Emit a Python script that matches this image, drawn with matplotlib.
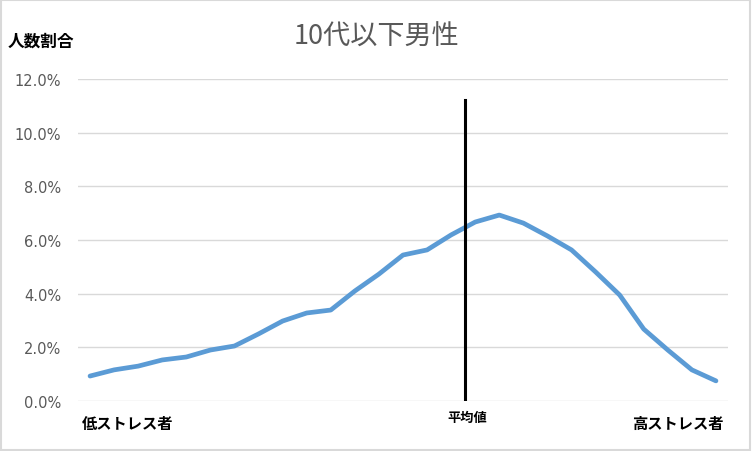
import numpy as np
import matplotlib
matplotlib.use("Agg")
import matplotlib.pyplot as plt
from matplotlib.patches import Rectangle
from matplotlib.ticker import FuncFormatter

plt.rcParams['font.family'] = ['Noto Sans CJK JP', 'DejaVu Sans']

# share of people per stress score bin (27 bins, low -> high stress)
ratio = [0.93, 1.16, 1.30, 1.53, 1.64, 1.90, 2.05, 2.50, 2.98, 3.28, 3.39,
         4.10, 4.73, 5.44, 5.63, 6.19, 6.67, 6.93, 6.63, 6.15, 5.63, 4.81,
         3.95, 2.68, 1.90, 1.16, 0.75]
mean_pos = 15.58      # position of the mean along the bins
mean_height = 11.2    # height of the mean marker line (%)
yticks = [0, 2, 4, 6, 8, 10, 12]

title = "10代以下男性"
ylabel = "人数割合"
left_label = "低ストレス者"
mid_label = "平均値"
right_label = "高ストレス者"

fig = plt.figure(figsize=(7.52, 4.52), dpi=100)
ax = fig.add_axes([78/752, 1-402/452, 650/752, 322/452])

x = np.arange(len(ratio))
ax.plot(x, np.array(ratio)/100, color="#5B9BD5", lw=3.4, solid_capstyle="round",
        solid_joinstyle="round", zorder=3)
ax.plot([mean_pos, mean_pos], [0, mean_height/100], color="black", lw=2.2, zorder=4)

ax.set_xlim(-0.5, len(ratio)-0.5)
ax.set_ylim(0, 0.12)
ax.set_yticks([v/100 for v in yticks])
ax.yaxis.set_major_formatter(FuncFormatter(lambda v, p: "{0:.1f}%".format(v*100)))
ax.set_xticks([])
ax.grid(axis="y", color="#D9D9D9", lw=1)
ax.set_axisbelow(True)
for s in ax.spines.values():
  s.set_visible(False)
ax.tick_params(axis="y", length=0, pad=12)
for lab in ax.get_yticklabels():
  lab.set_fontfamily("DejaVu Sans")
  lab.set_fontsize(10.5)
  lab.set_color("#595959")

fig.text(376/752, 1-37/452, title, ha="center", va="center", fontsize=19.5, color="#595959")
fig.text(8/752, 1-42/452, ylabel, ha="left", va="center", fontsize=12,
         fontweight="bold", color="black")
fig.text(82/752, 1-424/452, left_label, ha="left", va="center", fontsize=11,
         fontweight="bold", color="black")
fig.text(724/752, 1-424/452, right_label, ha="right", va="center", fontsize=11,
         fontweight="bold", color="black")
ax.text(mean_pos + 0.1, -0.0058, mid_label, ha="center", va="center", fontsize=9.5,
        fontweight="bold", color="black")

border = Rectangle((0.001, 0.002), 0.997, 0.995, transform=fig.transFigure,
                   fill=False, ec="#D9D9D9", lw=1.5)
fig.patches.append(border)

fig.savefig("out.png", dpi=100)
